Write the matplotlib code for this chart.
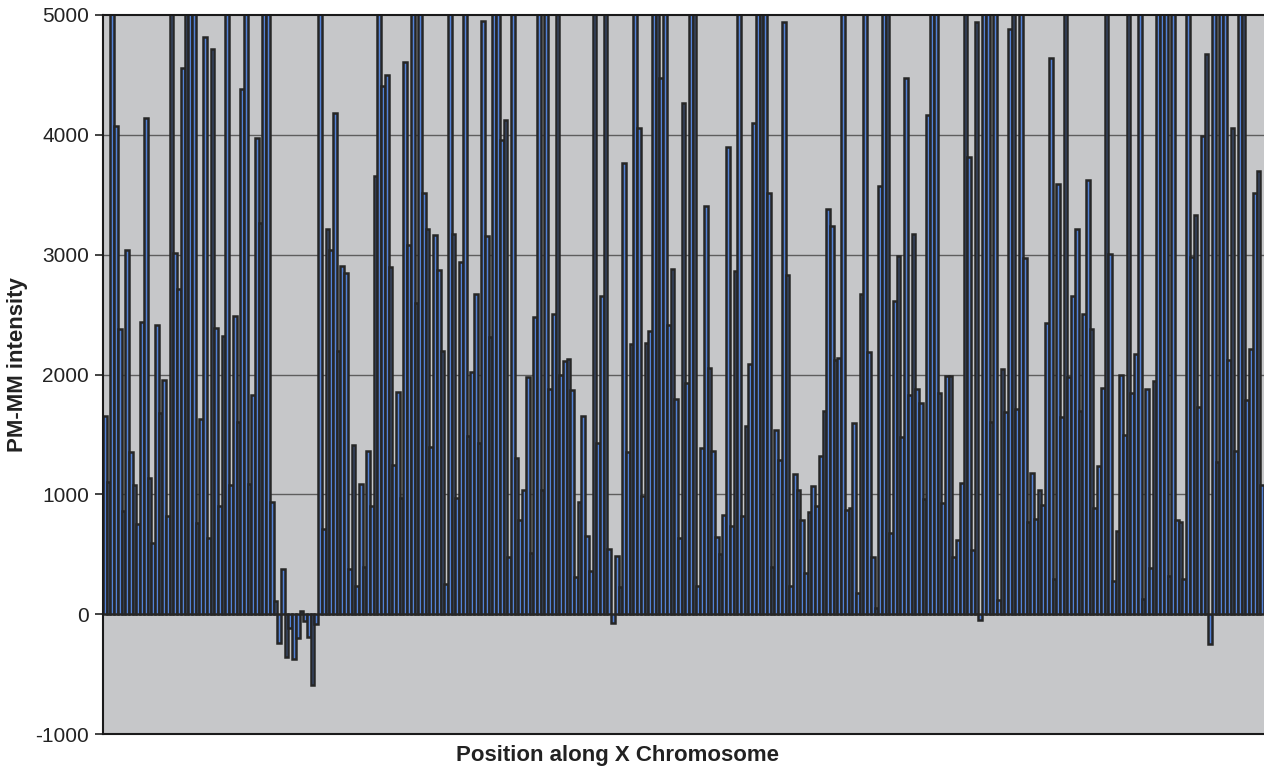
import numpy as np
import matplotlib
matplotlib.use('Agg')
import matplotlib.pyplot as plt

# values above 5000 run off the top of the axis (drawn as 6000, clipped)
TOP = 6000

intensity_1 = [1650, 1100, TOP, 4070, 2380, 865, 3035, 1350, 1080, 750, 2435, 4140, 1140, 595,
               2410, 1680, 1950, 820, TOP, 3010, 2715, 4557, TOP, TOP, TOP, 760, 1630, 4814, 633,
               4713, 2385, 900, 2318, TOP, 1080, 2492, 1607, 4379, TOP, 1090, 1832, 3971, 3265,
               TOP, TOP, 935, 109, -240, 380, -357, -113, -377, -200]
intensity_2 = [25, -55, -190, -590, -85, TOP, 710, 3218, 3036, 4180, 2193, 2904, 2845, 380, 1409,
               237, 1090, 392, 1362, 905, 3653, TOP, 4406, 4499, 2896, 1246, 1856, 970, 4604, 3082,
               TOP, 2597, TOP, 3517, 3218, 1394, 3164, 2869, 2193, 248, TOP, 3175, 970, 2942, TOP,
               1490, 2022, 2670, 1428, 4953, 3156, 2313]
intensity_3 = [TOP, TOP, 3956, 4123, 474, TOP, 1300, 784, 1040, 1976, 512, 2481, TOP, 1040, TOP,
               1879, 2504, TOP, 1999, 2112, 2127, 1867, 307, 935, 1654, 652, 357, TOP, 1432, 2659,
               TOP, 543, -74, 485, 229, 3769, 1351, 2251, TOP, 4053, 986, 2259, 2364, TOP, TOP,
               4476, TOP, 2411, 2884, 1797, 633, 4266]
intensity_4 = [1929, TOP, TOP, 237, 1386, 3408, 2054, 1363, 644, 501, 831, 3898, 734, 2861, TOP,
               819, 1572, 2089, 4099, TOP, TOP, TOP, 3517, 396, 1533, 1289, 4938, 2834, 237, 1172,
               1040, 784, 345, 850, 1068, 901, 1324, 1693, 3377, 3238, 2120, 2139, TOP, 866, 889,
               1599, 179, 2671, TOP, 2186, 474, 54]
intensity_5 = [3575, TOP, TOP, 675, 2613, 2993, 1479, 4476, 1832, 3175, 1879, 1762, 963, 4169, TOP,
               TOP, 1844, 924, 1988, 1988, 477, 617, 1091, TOP, 3816, 536, 4938, -47, TOP, TOP,
               1607, TOP, 120, 2046, 1685, 4887, TOP, 1708, TOP, 2974, 769, 1180, 796, 1040, 912,
               2426, 4639, 295, 3591, 1642, TOP, 1976, 2655]
intensity_6 = [3218, 1693, 2504, 3626, 2376, 889, 1234, 1891, TOP, 3005, 276, 691, 1999, 1491, TOP,
               1844, 2174, TOP, 124, 1879, 384, 1949, TOP, TOP, TOP, 318, TOP, 784, 769, 295, TOP,
               2977, 3335, 1727, 3994, 4678, -248, TOP, 1269, TOP, TOP, 2120, 4053, 1363, TOP, TOP,
               1790, 2209, 3517, 3696, 1079]

y_ticks = [-1000, 0, 1000, 2000, 3000, 4000, 5000]

FONT = ["Liberation Sans", "DejaVu Sans"]


def make_chromosome_plot():
    values = np.array(intensity_1 + intensity_2 + intensity_3 +
                      intensity_4 + intensity_5 + intensity_6)
    positions = np.arange(len(values))

    fig = plt.figure(figsize=(12.64, 7.69), dpi=100)
    ax = fig.add_axes([103 / 1264, 1 - 734 / 769, 1 - 103 / 1264, (734 - 15) / 769])
    ax.set_facecolor("#c6c7c9")

    for y in [1000, 2000, 3000, 4000]:
        ax.axhline(y, color="#5e5e5e", linewidth=1.0, zorder=1)

    ax.bar(positions, values, width=1.0, color="#5382d6", edgecolor="#262626",
           linewidth=1.8, zorder=2)

    ax.set_xlim(-0.5, len(values) - 0.5)
    ax.set_ylim(-1000, 5000)
    ax.set_yticks(y_ticks)
    ax.set_yticklabels([str(t) for t in y_ticks], fontsize=15, color="#222222", family=FONT)
    ax.set_xticks([])
    ax.tick_params(axis="y", direction="out", length=6, width=1.2, color="#222222", pad=4)

    for side in ["left", "bottom", "top"]:
        ax.spines[side].set_color("#1a1a1a")
        ax.spines[side].set_linewidth(1.5)
    ax.spines["right"].set_visible(False)

    fig.text(617 / 1264, 1 - 756 / 769, "Position along X Chromosome", fontsize=16,
             fontweight="bold", color="#222222", ha="center", va="center", family=FONT)
    fig.text(18 / 1264, 1 - 365 / 769, "PM-MM intensity", fontsize=16, rotation=90,
             fontweight="bold", color="#222222", ha="center", va="center", family=FONT)

    fig.savefig("out.png", dpi=100)
    plt.close(fig)


if __name__ == "__main__":
    make_chromosome_plot()
